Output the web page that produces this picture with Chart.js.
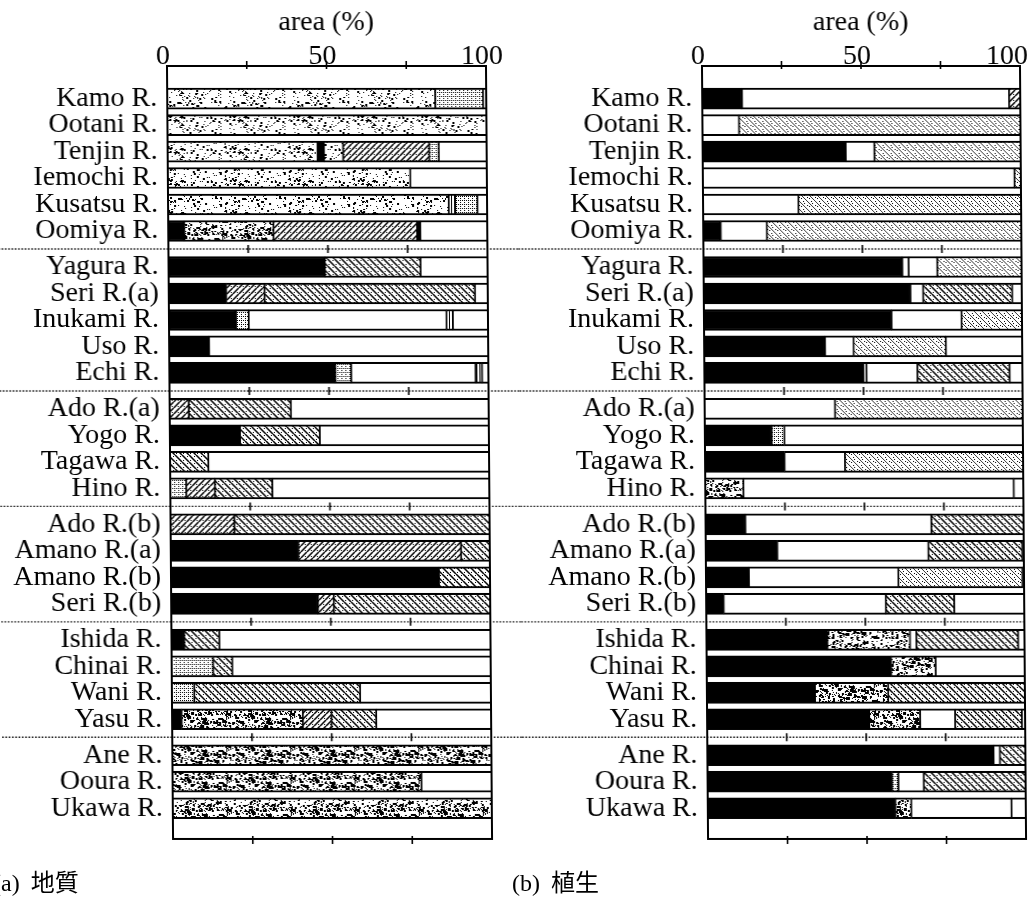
<!DOCTYPE html>
<html>
<head>
<meta charset="utf-8">
<title>area (%)</title>
<script src="https://cdn.jsdelivr.net/npm/chart.js@4.4.1/dist/chart.umd.min.js"></script>
<style>
  html, body { margin: 0; padding: 0; background: #fff; width: 1033px; height: 900px; overflow: hidden; }
  #sheet { position: absolute; left: 0; top: 0; width: 1033px; height: 900px; transform: skewX(0.45deg); transform-origin: 0 450px; }
  canvas { position: absolute; top: 0; }
  #geo { left: 0; }
  #veg { left: 520px; }
  .caption { position: absolute; top: 871px; font: 24px "Liberation Serif", "Noto Sans CJK JP", serif; line-height: 1; color: #000; white-space: nowrap; word-spacing: 5px; }
</style>
</head>
<body>
<div id="sheet">
  <canvas id="geo" width="520" height="900"></canvas>
  <canvas id="veg" width="513" height="900"></canvas>
</div>
<div class="caption" id="capA" style="left:-7px"></div>
<div class="caption" id="capB" style="left:512px"></div>
<script>
// ---- data ----------------------------------------------------------------
const rivers = [
  'Kamo R.', 'Ootani R.', 'Tenjin R.', 'Iemochi R.', 'Kusatsu R.', 'Oomiya R.',
  'Yagura R.', 'Seri R.(a)', 'Inukami R.', 'Uso R.', 'Echi R.',
  'Ado R.(a)', 'Yogo R.', 'Tagawa R.', 'Hino R.',
  'Ado R.(b)', 'Amano R.(a)', 'Amano R.(b)', 'Seri R.(b)',
  'Ishida R.', 'Chinai R.', 'Wani R.', 'Yasu R.',
  'Ane R.', 'Ooura R.', 'Ukawa R.'
];
// rivers per block, blocks are split by dotted rules
const groupSizes = [6, 5, 4, 4, 4, 3];

const axisTitle = 'area (%)';
const xTickValues = [0, 50, 100];
const xTickLabels = ['0', '50', '100'];
const minorTickValues = [25, 50, 75];
const captions = ['(a) 地質', '(b) 植生'];

// each river: [share %, fill code] from left to right
// K black, W blank, S light stipple, G dense stipple, D fine dots,
// H "/" hatch, X "\" hatch, P light dotted hatch, V vertical lines
const geology = [
  [[84, 'S'], [15, 'D'], [1, 'W']],
  [[100, 'S']],
  [[47, 'S'], [2, 'K'], [6, 'S'], [27, 'H'], [3, 'D'], [15, 'W']],
  [[76, 'S'], [24, 'W']],
  [[88, 'S'], [2, 'V'], [7, 'D'], [3, 'W']],
  [[5, 'K'], [28, 'G'], [45, 'H'], [1, 'K'], [21, 'W']],
  [[49, 'K'], [30, 'X'], [21, 'W']],
  [[18, 'K'], [12, 'H'], [66, 'X'], [4, 'W']],
  [[21, 'K'], [4, 'D'], [62, 'W'], [2, 'V'], [11, 'W']],
  [[12.5, 'K'], [87.5, 'W']],
  [[52, 'K'], [5, 'D'], [39, 'W'], [2, 'V'], [2, 'W']],
  [[6, 'H'], [32, 'X'], [62, 'W']],
  [[22, 'K'], [25, 'X'], [53, 'W']],
  [[12, 'X'], [88, 'W']],
  [[5, 'D'], [9, 'H'], [18, 'X'], [68, 'W']],
  [[20, 'H'], [80, 'X']],
  [[40, 'K'], [51, 'H'], [9, 'X']],
  [[84, 'K'], [16, 'X']],
  [[46, 'K'], [5, 'H'], [49, 'X']],
  [[4, 'K'], [11, 'X'], [85, 'W']],
  [[13, 'D'], [6, 'X'], [81, 'W']],
  [[7, 'D'], [52, 'X'], [41, 'W']],
  [[3, 'K'], [38, 'G'], [9, 'H'], [14, 'X'], [36, 'W']],
  [[100, 'G']],
  [[78, 'G'], [22, 'W']],
  [[100, 'G']]
];

const vegetation = [
  [[12.5, 'K'], [84, 'W'], [3.5, 'H']],
  [[11.5, 'W'], [88.5, 'P']],
  [[45, 'K'], [9, 'W'], [46, 'P']],
  [[98, 'W'], [2, 'P']],
  [[30, 'W'], [70, 'P']],
  [[5.5, 'K'], [14.5, 'W'], [80, 'P']],
  [[62.5, 'K'], [2, 'W'], [9, 'W'], [26.5, 'P']],
  [[65, 'K'], [4, 'W'], [28, 'X'], [3, 'W']],
  [[59, 'K'], [22, 'W'], [19, 'P']],
  [[38, 'K'], [9, 'W'], [29, 'P'], [24, 'W']],
  [[50, 'K'], [1, 'W'], [16, 'W'], [29, 'X'], [4, 'W']],
  [[41, 'W'], [59, 'P']],
  [[21, 'K'], [4, 'D'], [75, 'W']],
  [[25, 'K'], [19, 'W'], [56, 'P']],
  [[12, 'G'], [85, 'W'], [3, 'W']],
  [[12.5, 'K'], [58.5, 'W'], [29, 'X']],
  [[22.5, 'K'], [47.5, 'W'], [29.5, 'X'], [0.5, 'W']],
  [[13.5, 'K'], [47, 'W'], [39, 'P'], [0.5, 'W']],
  [[5.5, 'K'], [51, 'W'], [21.5, 'X'], [22, 'W']],
  [[38, 'K'], [26, 'G'], [2, 'W'], [32, 'X'], [2, 'W']],
  [[58, 'K'], [14, 'G'], [28, 'W']],
  [[34, 'K'], [23, 'G'], [43, 'X']],
  [[51, 'K'], [16, 'G'], [11, 'W'], [21, 'X'], [1, 'W']],
  [[90, 'K'], [2, 'W'], [8, 'X']],
  [[58, 'K'], [2, 'D'], [8, 'W'], [32, 'X']],
  [[59, 'K'], [5, 'G'], [31.5, 'W'], [4.5, 'W']]
];

// ---- layout of the rows ----------------------------------------------------
const GROUP_GAP = 0.36;          // extra space (in rows) at each dotted rule
const rowPos = [];
const groupBounds = [];
{
  let n = 0;
  groupSizes.forEach((size, g) => {
    groupBounds.push([n, n + size - 1]);
    for (let j = 0; j < size; j++) { rowPos.push(n + g * GROUP_GAP); n++; }
  });
}
const Y_MIN = -0.67;
const Y_MAX = rowPos[rowPos.length - 1] + 0.6;

// ---- fill textures -----------------------------------------------------------
function grain(seed) {
  let s = seed;
  return () => { s = (s * 16807) % 2147483647; return (s - 1) / 2147483646; };
}
function tile(w, h, draw) {
  const c = document.createElement('canvas');
  c.width = w; c.height = h;
  const g = c.getContext('2d');
  g.fillStyle = '#fff'; g.fillRect(0, 0, w, h);
  g.fillStyle = '#000'; g.strokeStyle = '#000';
  draw(g, w, h);
  return g.createPattern(c, 'repeat');
}
function speckle(g, w, h, seed, count, blobs) {
  const r = grain(seed);
  for (let i = 0; i < count; i++) {
    const s = r() < 0.75 ? 1 : 2;
    g.fillRect(Math.floor(r() * w), Math.floor(r() * h), s, s);
  }
  for (let i = 0; i < blobs; i++) {
    g.fillRect(Math.floor(r() * w), Math.floor(r() * h), 2 + Math.floor(r() * 3), 2 + Math.floor(r() * 2));
  }
}
function diag(g, w, h, forward, lw) {
  g.lineWidth = lw;
  g.beginPath();
  for (let k = -1; k <= 1; k++) {
    if (forward) { g.moveTo(0, h + k * h); g.lineTo(w, k * h); }
    else { g.moveTo(0, k * h); g.lineTo(w, h + k * h); }
  }
  g.stroke();
}
const fills = {
  K: '#000',
  W: '#fff',
  S: tile(64, 32, (g, w, h) => speckle(g, w, h, 7, 170, 3)),
  G: tile(64, 32, (g, w, h) => speckle(g, w, h, 11, 380, 34)),
  D: tile(4, 4, g => { g.fillRect(0, 0, 1, 1); g.fillRect(2, 2, 1, 1); g.fillRect(2, 0, 1, 1); }),
  H: tile(6, 6, (g, w, h) => { diag(g, w, h, true, 1.5); g.fillRect(4, 4, 1, 1); }),
  X: tile(7, 7, (g, w, h) => { diag(g, w, h, false, 1.5); g.fillRect(5, 1, 1, 1); g.fillRect(1, 5, 1, 1); }),
  P: tile(8, 8, (g, w, h) => { diag(g, w, h, false, 0.8); [[5,1],[1,5],[6,3],[3,6]].forEach(([a, b]) => g.fillRect(a, b, 1, 1)); }),
  V: tile(3, 4, g => g.fillRect(0, 0, 1, 4))
};

// ---- datasets: one layer per segment slot --------------------------------------
function buildDatasets(segments) {
  const layers = Math.max(...segments.map(s => s.length));
  const sets = [];
  for (let k = 0; k < layers; k++) {
    const data = [];
    segments.forEach((row, i) => {
      if (k >= row.length) return;
      let start = 0;
      for (let j = 0; j < k; j++) start += row[j][0];
      data.push({ x: [start, start + row[k][0]], y: rowPos[i], fill: row[k][1] });
    });
    sets.push({
      data,
      grouped: false,
      barPercentage: 1,
      categoryPercentage: 1,
      maxBarThickness: 21,
      backgroundColor: ctx => (ctx.raw ? fills[ctx.raw.fill] : '#fff'),
      borderColor: '#000',
      borderWidth: { top: 2, bottom: 2, left: 1.2, right: 1.2 },
      borderSkipped: false
    });
  }
  return sets;
}

// frame, dotted block rules, tick marks and the top tick labels
const framePlugin = {
  id: 'frame',
  beforeDraw(chart) {
    const { ctx, width, height } = chart;
    ctx.save(); ctx.fillStyle = '#fff'; ctx.fillRect(0, 0, width, height); ctx.restore();
  },
  afterDatasetsDraw(chart, args, opts) {
    const { ctx, chartArea: a, scales: { x, y } } = chart;
    ctx.save();
    ctx.strokeStyle = '#000';
    ctx.fillStyle = '#000';
    ctx.lineWidth = 2;
    ctx.strokeRect(a.left, a.top, a.right - a.left, a.bottom - a.top);

    ctx.lineWidth = 1.6;
    ctx.beginPath();
    minorTickValues.forEach(v => {
      const px = x.getPixelForValue(v);
      ctx.moveTo(px, a.top - 5); ctx.lineTo(px, a.top + 3);
      ctx.moveTo(px, a.bottom - 3); ctx.lineTo(px, a.bottom + 5);
    });
    ctx.stroke();

    const sepEnd = opts.toCanvasEdge ? chart.width : a.right;
    for (let g = 1; g < groupBounds.length; g++) {
      const yv = (rowPos[groupBounds[g - 1][1]] + rowPos[groupBounds[g][0]]) / 2;
      const py = y.getPixelForValue(yv);
      ctx.save();
      ctx.setLineDash([1.5, 1.8]);
      ctx.lineWidth = 1.4;
      ctx.beginPath(); ctx.moveTo(0, py); ctx.lineTo(sepEnd, py); ctx.stroke();
      ctx.restore();
      ctx.beginPath();
      minorTickValues.forEach(v => {
        const px = x.getPixelForValue(v);
        ctx.moveTo(px, py - 4); ctx.lineTo(px, py + 4);
      });
      ctx.stroke();
    }

    ctx.font = '28px "Liberation Serif", serif';
    ctx.textAlign = 'center';
    ctx.textBaseline = 'alphabetic';
    xTickValues.forEach((v, i) => {
      const label = xTickLabels[i];
      const w = ctx.measureText(label).width;
      let px = x.getPixelForValue(v) - 4;
      px = Math.max(w / 2 + 2, Math.min(chart.width - w / 2 - 2, px));
      ctx.fillText(label, px, a.top - 2);
    });
    ctx.restore();
  }
};

Chart.defaults.font.family = '"Liberation Serif", "Times New Roman", serif';
Chart.defaults.color = '#000';

function makePanel(id, segments, axisWidth, rightPad, toCanvasEdge) {
  return new Chart(document.getElementById(id), {
    type: 'bar',
    data: { datasets: buildDatasets(segments) },
    options: {
      indexAxis: 'y',
      responsive: false,
      animation: false,
      devicePixelRatio: 1,
      layout: { padding: { left: 0, top: 0, right: rightPad, bottom: 61 } },
      scales: {
        x: {
          type: 'linear', position: 'top', min: 0, max: 100,
          grid: { display: false, drawTicks: false },
          border: { display: false },
          ticks: { display: false },
          title: { display: true, text: axisTitle, color: '#000', font: { size: 28 }, padding: { top: 6, bottom: 0 } },
          afterFit: s => { s.height = 66; s.paddingLeft = 0; s.paddingRight = 0; }
        },
        y: {
          type: 'linear', reverse: true, min: Y_MIN, max: Y_MAX,
          grid: { display: false, drawTicks: false },
          border: { display: false },
          afterBuildTicks: s => { s.ticks = rowPos.map(v => ({ value: v })); },
          ticks: { autoSkip: false, padding: 10, color: '#000', font: { size: 28 }, callback: (v, i) => rivers[i] },
          afterFit: s => { s.width = axisWidth; s.paddingTop = 0; s.paddingBottom = 0; }
        }
      },
      plugins: {
        legend: { display: false },
        tooltip: { enabled: false },
        frame: { toCanvasEdge }
      }
    },
    plugins: [framePlugin]
  });
}

makePanel('geo', geology, 170, 520 - 489, true);
makePanel('veg', vegetation, 705 - 520, 513 - (1023 - 520), false);

document.getElementById('capA').textContent = captions[0];
document.getElementById('capB').textContent = captions[1];
</script>
</body>
</html>
